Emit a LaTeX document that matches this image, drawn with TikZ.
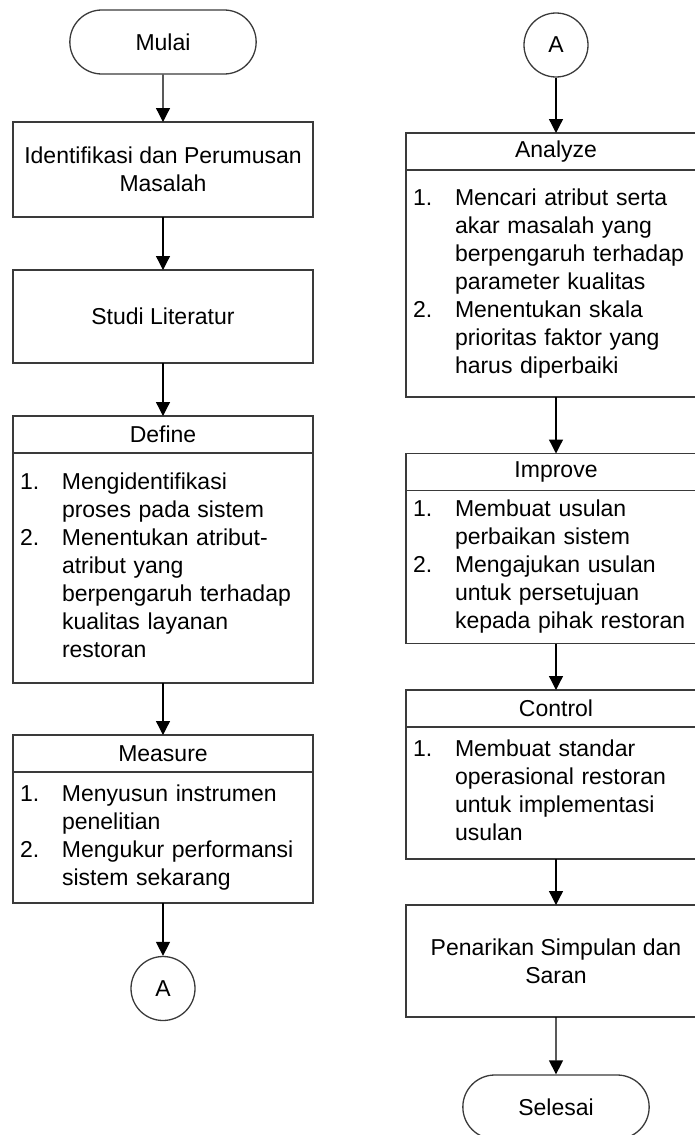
\documentclass[tikz,border=0pt]{standalone}
\usepackage{fontspec}
\setmainfont{Liberation Sans}
\usetikzlibrary{arrows.meta,positioning,shapes.misc}
\definecolor{edge}{HTML}{3A3A3A}
\newcommand{\steplist}[1]{\begin{tabular}{@{}p{42pt}@{}l@{}}#1\end{tabular}}

\begin{document}
\begin{tikzpicture}[x=1pt, y=-1pt,
    font=\fontsize{23}{28}\selectfont,
    stepbox/.style={draw=edge, line width=1.3pt, outer sep=0pt, inner sep=0pt,
                    minimum width=300pt, align=center},
    headbox/.style={stepbox, minimum height=37pt},
    listbox/.style={stepbox, text width=286pt, inner xsep=7pt, align=left},
    terminal/.style={rounded rectangle, draw=edge, line width=1.3pt,
                     minimum width=193pt, minimum height=64pt},
    connector/.style={circle, draw=edge, line width=1.3pt, minimum size=64pt, inner sep=0pt},
    flow/.style={-{Triangle[width=14pt,length=14pt]}, line width=1.3pt, black}
  ]
  \useasboundingbox (0,0) rectangle (695,1135);

  % left column
  \node[terminal] (mulai) at (163,42) {Mulai};
  \node[stepbox, minimum height=95pt] (identifikasi) at (163,169.5)
    {Identifikasi dan Perumusan\\Masalah};
  \node[stepbox, minimum height=93pt] (studi) at (163,316.5) {Studi Literatur};
  \node[headbox] (define) at (163,434.5) {Define};
  \node[listbox, minimum height=230pt, below=0pt of define] (defineb) {\steplist{
      1. & Mengidentifikasi\\ & proses pada sistem\\
      2. & Menentukan atribut-\\ & atribut yang\\ & berpengaruh terhadap\\
         & kualitas layanan\\ & restoran}};
  \node[headbox] (measure) at (163,753.5) {Measure};
  \node[listbox, minimum height=131pt, below=0pt of measure] (measureb) {\steplist{
      1. & Menyusun instrumen\\ & penelitian\\
      2. & Mengukur performansi\\ & sistem sekarang}};
  \node[connector] (conleft) at (163,988.5) {A};

  % right column
  \node[connector] (conright) at (556,45) {A};
  \node[headbox] (analyze) at (556,151.5) {Analyze};
  \node[listbox, minimum height=227pt, below=0pt of analyze] (analyzeb) {\steplist{
      1. & Mencari atribut serta\\ & akar masalah yang\\ & berpengaruh terhadap\\
         & parameter kualitas\\
      2. & Menentukan skala\\ & prioritas faktor yang\\ & harus diperbaiki}};
  \node[headbox] (improve) at (556,472) {Improve};
  \node[listbox, minimum height=153pt, below=0pt of improve] (improveb) {\steplist{
      1. & Membuat usulan\\ & perbaikan sistem\\
      2. & Mengajukan usulan\\ & untuk persetujuan\\ & kepada pihak restoran}};
  \node[headbox] (control) at (556,708.5) {Control};
  \node[listbox, minimum height=132pt, below=0pt of control] (controlb) {\steplist{
      1. & Membuat standar\\ & operasional restoran\\ & untuk implementasi\\
         & usulan}};
  \node[stepbox, minimum height=112pt] (penarikan) at (556,961)
    {Penarikan Simpulan dan\\Saran};
  \node[terminal] (selesai) at (556,1107) {Selesai};

  \draw[flow] (mulai) -- (identifikasi);
  \draw[flow] (identifikasi) -- (studi);
  \draw[flow] (studi) -- (define);
  \draw[flow] (defineb) -- (measure);
  \draw[flow] (measureb) -- (conleft);
  \draw[flow] (conright) -- (analyze);
  \draw[flow] (analyzeb) -- (improve);
  \draw[flow] (improveb) -- (control);
  \draw[flow] (controlb) -- (penarikan);
  \draw[flow] (penarikan) -- (selesai);
\end{tikzpicture}
\end{document}
